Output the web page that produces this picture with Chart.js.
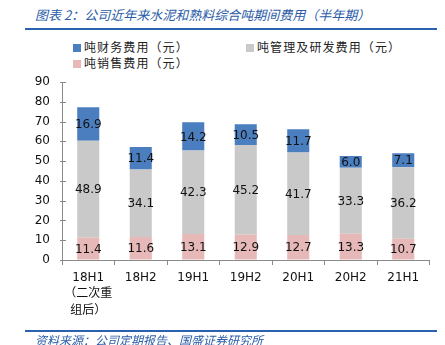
<!DOCTYPE html>
<html>
<head>
<meta charset="utf-8">
<script src="https://cdn.jsdelivr.net/npm/chart.js@4"></script>
<style>
  body { margin: 0; background: #fff; }
  #wrap { position: relative; width: 445px; height: 345px; overflow: hidden; background: #fff; }
  #chart { position: absolute; left: 0; top: 0; }
  .title, .source {
    position: absolute; left: 35px; color: #2a5ca8; font-style: italic;
    font-family: "Noto Sans CJK SC", sans-serif; white-space: nowrap;
  }
  .title { top: 6px; font-size: 13px; line-height: 18px; }
  .source { top: 332px; font-size: 12px; line-height: 16px; }
  .rule { position: absolute; left: 25px; width: 412px; height: 2px; background: #2a62b0; }
  .legend {
    position: absolute; font-family: "Noto Sans CJK SC", sans-serif; font-size: 12px;
    line-height: 14px; color: #222; white-space: nowrap; letter-spacing: 1.1px;
  }
  .legend i { display: inline-block; width: 8px; height: 8px; margin-right: 3px; vertical-align: 0px; }
</style>
</head>
<body>
<div id="wrap">
  <div class="title">图表 2：公司近年来水泥和熟料综合吨期间费用（半年期）</div>
  <div class="rule" style="top:28px"></div>
  <div class="legend" style="left:73px;top:40px"><i style="background:#4a7ebf"></i>吨财务费用（元）</div>
  <div class="legend" style="left:246px;top:40px"><i style="background:#c9c9c9"></i>吨管理及研发费用（元）</div>
  <div class="legend" style="left:73px;top:56px"><i style="background:#e6b8b7"></i>吨销售费用（元）</div>
  <canvas id="chart" width="445" height="345"></canvas>
  <div class="rule" style="top:330px"></div>
  <div class="source">资料来源：公司定期报告、国盛证券研究所</div>
</div>
<script>
const categories = [["18H1", "（二次重", "组后）"], "18H2", "19H1", "19H2", "20H1", "20H2", "21H1"];
const salesCost = [11.4, 11.6, 13.1, 12.9, 12.7, 13.3, 10.7];
const adminCost = [48.9, 34.1, 42.3, 45.2, 41.7, 33.3, 36.2];
const financeCost = [16.9, 11.4, 14.2, 10.5, 11.7, 6.0, 7.1];
const yTicks = [0, 10, 20, 30, 40, 50, 60, 70, 80, 90];

const numFont = { family: "DejaVu Sans", size: 12 };

// value labels centred in each stacked segment
const segmentLabels = {
  id: "segmentLabels",
  afterDatasetsDraw(chart) {
    const c = chart.ctx;
    c.save();
    c.font = "12px 'DejaVu Sans'";
    c.fillStyle = "#111";
    c.textAlign = "center";
    c.textBaseline = "middle";
    chart.data.datasets.forEach((ds, i) => {
      chart.getDatasetMeta(i).data.forEach((bar, j) => {
        c.fillText(ds.data[j].toFixed(1), bar.x, (bar.y + bar.base) / 2 + 1);
      });
    });
    c.restore();
  }
};

// small y tick marks crossing the axis line
const yTickMarks = {
  id: "yTickMarks",
  afterDraw(chart) {
    const y = chart.scales.y;
    const c = chart.ctx;
    c.save();
    c.strokeStyle = "#8a8a8a";
    c.lineWidth = 1;
    yTicks.forEach(v => {
      const py = Math.round(y.getPixelForValue(v)) + 0.5;
      c.beginPath();
      c.moveTo(y.right - 2, py);
      c.lineTo(y.right + 4, py);
      c.stroke();
    });
    c.restore();
  }
};

new Chart(document.getElementById("chart"), {
  type: "bar",
  data: {
    labels: categories,
    datasets: [
      { label: "吨销售费用（元）", data: salesCost, backgroundColor: "#e6b8b7" },
      { label: "吨管理及研发费用（元）", data: adminCost, backgroundColor: "#c9c9c9" },
      { label: "吨财务费用（元）", data: financeCost, backgroundColor: "#4a7ebf" }
    ]
  },
  options: {
    responsive: false,
    animation: false,
    devicePixelRatio: 1,
    barPercentage: 0.42,
    categoryPercentage: 1,
    layout: { padding: { top: 82, right: 15.5, left: 0, bottom: 0 } },
    plugins: { legend: { display: false }, tooltip: { enabled: false } },
    scales: {
      x: {
        stacked: true,
        grid: { drawOnChartArea: false, drawTicks: true, tickLength: 5, color: "#8a8a8a", offset: true },
        border: { color: "#8a8a8a" },
        ticks: { color: "#111", font: { family: "DejaVu Sans, Noto Sans CJK SC", size: 12, lineHeight: 1.35 }, padding: 5, maxRotation: 0, autoSkip: false },
        afterFit(scale) { scale.height = 85; }
      },
      y: {
        stacked: true,
        min: 0,
        max: 90,
        grid: { drawOnChartArea: false, drawTicks: false },
        border: { color: "#8a8a8a" },
        afterBuildTicks(scale) { scale.ticks = yTicks.map(v => ({ value: v })); },
        ticks: { color: "#111", font: numFont, padding: 12 },
        afterFit(scale) { scale.width = 62; }
      }
    }
  },
  plugins: [segmentLabels, yTickMarks]
});
</script>
</body>
</html>
